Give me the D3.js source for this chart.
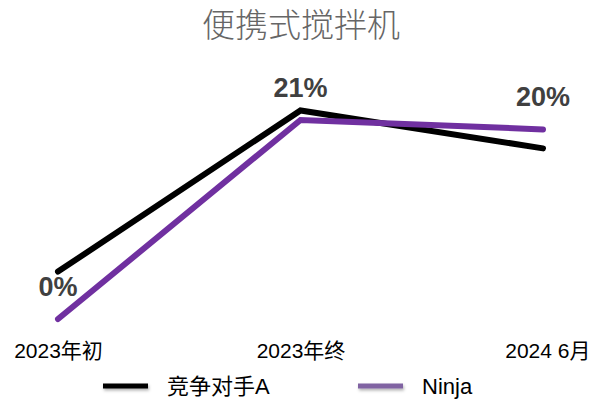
<!DOCTYPE html>
<html>
<head>
<meta charset="utf-8">
<script src="https://cdn.jsdelivr.net/npm/d3@7"></script>
<style>
  body { margin: 0; background: #fff; }
  svg { display: block; font-family: "Liberation Sans", Arial, "Noto Sans CJK SC", sans-serif; }
</style>
</head>
<body>
<svg id="chart"></svg>
<script>
// chart data
const categories = ['2023年初', '2023年终', '2024 6月'];
const competitorValues = [5, 22, 18];
const ninjaValues = [0, 21, 20];
const ninjaLabels = ['0%', '21%', '20%'];
const seriesNames = ['竞争对手A', 'Ninja'];

const width = 592;
const height = 403;

const svg = d3.select('#chart').attr('width', width).attr('height', height);

// soft shadow for legend swatches
const defs = svg.append('defs');
const f = defs.append('filter').attr('id', 'shadow')
  .attr('filterUnits', 'userSpaceOnUse')
  .attr('x', 0).attr('y', 360).attr('width', width).attr('height', 43);
f.append('feDropShadow').attr('dx', 1).attr('dy', 2).attr('stdDeviation', 1.5)
  .attr('flood-color', '#000').attr('flood-opacity', 0.3);

const xScale = d3.scalePoint().domain(categories).range([58, 543]);
const yScale = d3.scaleLinear().domain([0, 25]).range([319, 82]);

const line = d3.line()
  .x((d, i) => xScale(categories[i]))
  .y((d) => yScale(d));

// Title
svg.append('text')
  .attr('x', 301)
  .attr('y', 37)
  .attr('text-anchor', 'middle')
  .style('font-family', '"Noto Sans CJK SC", sans-serif')
  .style('font-weight', 300)
  .style('font-size', '33px')
  .style('fill', '#666666')
  .text('便携式搅拌机');

// Lines
svg.append('path')
  .datum(competitorValues)
  .attr('d', line)
  .attr('fill', 'none')
  .attr('stroke', '#000000')
  .attr('stroke-width', 6)
  .attr('stroke-linecap', 'round')
  .attr('stroke-linejoin', 'miter');

svg.append('path')
  .datum(ninjaValues)
  .attr('d', line)
  .attr('fill', 'none')
  .attr('stroke', '#7030A0')
  .attr('stroke-width', 6)
  .attr('stroke-linecap', 'round')
  .attr('stroke-linejoin', 'miter');

// Data labels for Ninja
svg.selectAll('.label')
  .data(ninjaValues)
  .enter()
  .append('text')
  .attr('class', 'label')
  .attr('x', (d, i) => xScale(categories[i]))
  .attr('y', (d) => yScale(d) - 23)
  .attr('text-anchor', 'middle')
  .style('font-size', '27px')
  .style('font-weight', 'bold')
  .style('fill', '#404040')
  .text((d, i) => ninjaLabels[i]);

// X axis (labels only)
const xAxis = svg.append('g')
  .attr('transform', 'translate(0, 343)')
  .call(d3.axisBottom(xScale).tickSize(0).tickPadding(0));
xAxis.select('.domain').remove();
xAxis.selectAll('text')
  .attr('dy', '0.71em')
  .style('font-family', '"Liberation Sans", Arial, "Noto Sans CJK SC", sans-serif')
  .style('font-size', '21px')
  .style('fill', '#000');
xAxis.selectAll('.tick text')
  .attr('text-anchor', (d, i) => (i === categories.length - 1 ? 'end' : 'middle'))
  .attr('x', (d, i) => (i === categories.length - 1 ? 47 : 0));

// Legend
const legend = svg.append('g');
const legendItems = [
  { name: seriesNames[0], color: '#000000', x: 103 },
  { name: seriesNames[1], color: '#8064A2', x: 358 }
];
legendItems.forEach((item) => {
  legend.append('rect')
    .attr('x', item.x)
    .attr('y', 383.5)
    .attr('width', 45)
    .attr('height', 5)
    .attr('fill', item.color)
    .attr('filter', 'url(#shadow)');
  legend.append('text')
    .attr('x', item.x + 64)
    .attr('y', 394)
    .style('font-size', '22px')
    .style('fill', '#000')
    .text(item.name);
});
</script>
</body>
</html>
